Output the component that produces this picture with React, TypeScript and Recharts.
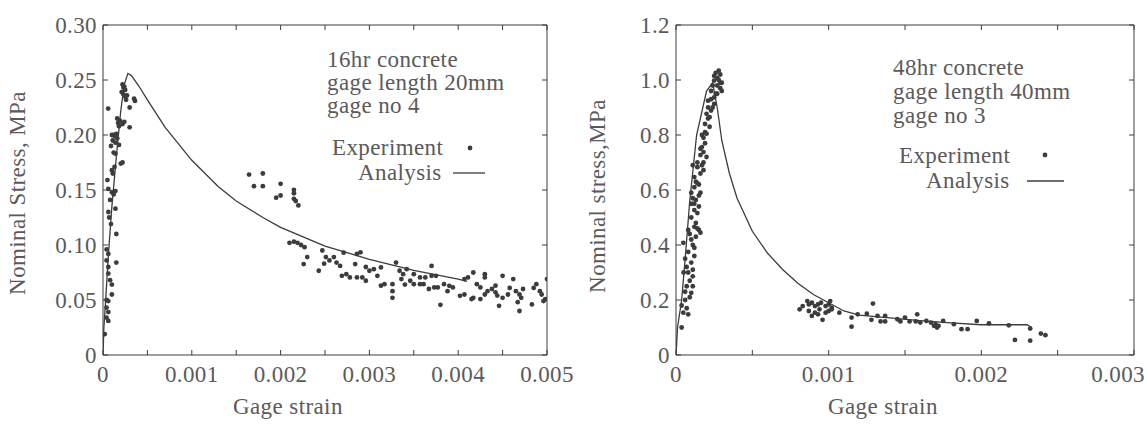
import React from "react";
import { ScatterChart, Scatter, XAxis, YAxis } from "recharts";

const FONT = "Liberation Serif, Tinos, DejaVu Serif, serif";
const TEXT = "#5a5a5a";
const INK = "#3c3c3c";

// ---- left panel: 16hr concrete ----
const leftXTicks = [0, 0.0005, 0.001, 0.0015, 0.002, 0.0025, 0.003, 0.0035, 0.004, 0.0045, 0.005];
const leftXLabels = ["0", "", "0.001", "", "0.002", "", "0.003", "", "0.004", "", "0.005"];
const leftYTicks = [0, 0.05, 0.1, 0.15, 0.2, 0.25, 0.3];
const leftYLabels = ["0", "0.05", "0.10", "0.15", "0.20", "0.25", "0.30"];

const leftAnalysis = [
  [0, 0], [0.00001, 0.025], [0.00003, 0.05], [0.00006, 0.09], [0.0001, 0.135], [0.00015, 0.18],
  [0.0002, 0.222], [0.00024, 0.246], [0.00028, 0.256], [0.00032, 0.254], [0.0004, 0.245],
  [0.0005, 0.232], [0.0007, 0.207], [0.001, 0.177], [0.0013, 0.153], [0.0015, 0.14],
  [0.0018, 0.125], [0.002, 0.116], [0.0025, 0.099], [0.003, 0.087], [0.0035, 0.077],
  [0.004, 0.069], [0.0041, 0.067],
];

const leftExperiment = [
  [0.000058, 0.224], [0.00022, 0.246], [0.00024, 0.244], [0.00025, 0.241], [0.00023, 0.237],
  [0.00027, 0.236], [0.00026, 0.232], [0.00035, 0.233], [0.00036, 0.231], [0.0003, 0.225],
  [0.0003, 0.207], [0.00016, 0.215], [0.00019, 0.213], [0.00022, 0.21], [0.00024, 0.212],
  [0.00018, 0.208], [0.0001, 0.2], [0.00013, 0.199], [0.00016, 0.197], [0.00011, 0.195],
  [0.00014, 0.193], [0.00018, 0.191], [0.00012, 0.184], [0.00014, 0.183], [0.0002, 0.174],
  [0.00022, 0.175], [0.0001, 0.168], [0.00011, 0.165], [0.00005, 0.159], [0.00006, 0.151],
  [0.0001, 0.148], [0.00012, 0.146], [0.00014, 0.149], [0.00006, 0.13], [0.00007, 0.125],
  [0.00014, 0.133], [0.00015, 0.11], [0.00004, 0.096], [0.00006, 0.092], [0.00004, 0.086],
  [0.00006, 0.08], [0.00015, 0.084], [0.00006, 0.074], [0.00008, 0.068], [0.0001, 0.064],
  [0.0001, 0.055], [0.00004, 0.05], [0.00006, 0.049], [0.00004, 0.043], [0.00006, 0.039],
  [0.00004, 0.034], [0.00006, 0.031], [0.00002, 0.019],
  [0.00023, 0.243], [0.00021, 0.239], [0.00025, 0.235], [0.00017, 0.211], [0.00012, 0.2],
  [0.00015, 0.201], [0.00009, 0.19], [0.00013, 0.171], [0.00008, 0.141], [0.00009, 0.119],
  [0.001645, 0.164], [0.0018, 0.165], [0.0017, 0.1535], [0.0018, 0.1535], [0.002, 0.1556],
  [0.00195, 0.143], [0.002, 0.145], [0.00215, 0.15], [0.00215, 0.147], [0.00215, 0.142],
  [0.00217, 0.14], [0.0022, 0.136],
  [0.0021, 0.102], [0.00215, 0.103], [0.00219, 0.102], [0.00223, 0.1], [0.00227, 0.098],
  [0.00226, 0.0827], [0.0023, 0.089], [0.00243, 0.0766], [0.00247, 0.095], [0.00251, 0.089],
  [0.00255, 0.086], [0.00249, 0.083], [0.0026, 0.089], [0.00263, 0.084], [0.00267, 0.081],
  [0.00271, 0.093], [0.00269, 0.072], [0.00274, 0.0735], [0.00278, 0.0705], [0.00284, 0.0827],
  [0.00286, 0.092], [0.0029, 0.0933], [0.00286, 0.0705], [0.00292, 0.0705], [0.00296, 0.0675],
  [0.00296, 0.08], [0.003, 0.0766], [0.00305, 0.078], [0.00309, 0.072], [0.00313, 0.0796],
  [0.00313, 0.063], [0.00317, 0.0644], [0.00326, 0.0644], [0.00326, 0.058], [0.00326, 0.052],
  [0.0033, 0.084], [0.00334, 0.0766], [0.00338, 0.0735], [0.00342, 0.078], [0.00336, 0.069],
  [0.0034, 0.064], [0.00346, 0.0675], [0.0035, 0.0644], [0.00357, 0.0644], [0.00361, 0.0644],
  [0.0035, 0.0735], [0.00357, 0.0705], [0.0037, 0.081], [0.00363, 0.0705], [0.0037, 0.072],
  [0.00375, 0.072], [0.00367, 0.06], [0.00373, 0.0614], [0.00377, 0.0614], [0.0038, 0.0456],
  [0.00384, 0.0644], [0.00388, 0.058], [0.0039, 0.0629], [0.00394, 0.0614], [0.00402, 0.0538],
  [0.00407, 0.055], [0.00407, 0.069], [0.00411, 0.0705], [0.00417, 0.075], [0.00415, 0.0508],
  [0.00417, 0.052], [0.00421, 0.0644], [0.00425, 0.0614], [0.0043, 0.0735], [0.0043, 0.0705],
  [0.0043, 0.055], [0.00425, 0.0508], [0.00433, 0.058], [0.00438, 0.06], [0.00442, 0.063],
  [0.00442, 0.057], [0.00444, 0.054], [0.00446, 0.0447], [0.0045, 0.052], [0.00456, 0.055],
  [0.00458, 0.061], [0.0045, 0.072], [0.00462, 0.069], [0.00465, 0.058], [0.00467, 0.048],
  [0.00469, 0.055], [0.00471, 0.052], [0.00469, 0.04], [0.00473, 0.06], [0.00483, 0.046],
  [0.00485, 0.061], [0.00488, 0.0644], [0.00492, 0.058], [0.00494, 0.055], [0.00496, 0.049],
  [0.00498, 0.0508], [0.005, 0.069],
];

// ---- right panel: 48hr concrete ----
const rightXTicks = [0, 0.0005, 0.001, 0.0015, 0.002, 0.0025, 0.003];
const rightXLabels = ["0", "", "0.001", "", "0.002", "", "0.003"];
const rightYTicks = [0, 0.2, 0.4, 0.6, 0.8, 1.0, 1.2];
const rightYLabels = ["0", "0.2", "0.4", "0.6", "0.8", "1.0", "1.2"];

const rightAnalysis = [
  [0, 0], [0.00001, 0.1], [0.000037, 0.2], [0.00006, 0.35], [0.00009, 0.56], [0.000135, 0.8],
  [0.0002, 0.96], [0.00024, 0.99], [0.00027, 0.9], [0.0003, 0.78], [0.00035, 0.66],
  [0.0004, 0.57], [0.0005, 0.45], [0.0006, 0.37], [0.0007, 0.31], [0.0008, 0.26],
  [0.0009, 0.22], [0.001, 0.19], [0.0011, 0.16], [0.0012, 0.145], [0.0014, 0.135],
  [0.0016, 0.125], [0.0018, 0.117], [0.002, 0.11], [0.0023, 0.11], [0.00233, 0.1],
];

const rightExperiment = [
  [0.000037, 0.1], [0.000048, 0.154], [0.00008, 0.148], [0.000037, 0.18], [0.00006, 0.2],
  [0.0001, 0.226], [0.00007, 0.25], [0.00011, 0.25], [0.00005, 0.3], [0.00007, 0.32],
  [0.0001, 0.336], [0.00011, 0.286], [0.000048, 0.408], [0.00008, 0.375], [0.00011, 0.4],
  [0.00012, 0.36], [0.0001, 0.42], [0.00008, 0.455], [0.00012, 0.466], [0.00015, 0.455],
  [0.00016, 0.445], [0.0001, 0.5], [0.00012, 0.527], [0.00014, 0.516], [0.0001, 0.55],
  [0.00013, 0.564], [0.0001, 0.59], [0.00012, 0.61], [0.00016, 0.59], [0.00014, 0.625],
  [0.00012, 0.647], [0.00016, 0.66], [0.00018, 0.672], [0.00014, 0.683], [0.00011, 0.69],
  [0.00016, 0.727], [0.00018, 0.738], [0.00017, 0.756], [0.0002, 0.72], [0.00018, 0.79],
  [0.0002, 0.805], [0.00022, 0.83], [0.00019, 0.84], [0.00022, 0.865], [0.0002, 0.877],
  [0.00023, 0.889], [0.00025, 0.913], [0.00021, 0.925], [0.00025, 0.937], [0.00027, 0.95],
  [0.00023, 0.96], [0.00029, 0.97], [0.0003, 0.96], [0.00025, 0.998], [0.00027, 1.008],
  [0.00026, 1.026], [0.00028, 1.034], [0.00029, 0.99], [0.0003, 0.99],
  [0.00007, 0.17], [0.00009, 0.27], [0.00006, 0.35], [0.00009, 0.44], [0.00013, 0.48],
  [0.00011, 0.57], [0.00015, 0.62], [0.00014, 0.7], [0.00019, 0.77], [0.00017, 0.8],
  [0.00021, 0.86], [0.00024, 0.9], [0.00026, 0.95], [0.00024, 0.98], [0.00028, 1.0],
  [0.00029, 1.02], [0.00008, 0.3], [0.00013, 0.43], [0.00015, 0.54], [0.00018, 0.7],
  [0.00006, 0.23], [0.00009, 0.21], [0.00011, 0.31], [0.00012, 0.39], [0.00014, 0.46],
  [0.00012, 0.55], [0.00015, 0.58], [0.00013, 0.63], [0.00017, 0.69], [0.00016, 0.75],
  [0.00019, 0.81], [0.00021, 0.9], [0.00023, 0.93], [0.00027, 0.98], [0.00025, 1.015],
  [0.00081, 0.166], [0.00083, 0.178], [0.00086, 0.196], [0.00087, 0.184], [0.00089, 0.19],
  [0.00091, 0.178], [0.00093, 0.184], [0.00095, 0.19], [0.00098, 0.178], [0.001, 0.184],
  [0.00102, 0.172], [0.00087, 0.16], [0.00091, 0.154], [0.00094, 0.166], [0.00098, 0.154],
  [0.001, 0.16], [0.00089, 0.142], [0.00093, 0.148], [0.00096, 0.128], [0.00102, 0.166],
  [0.00101, 0.196], [0.00107, 0.154], [0.00115, 0.136], [0.00115, 0.103], [0.00119, 0.148],
  [0.00125, 0.15], [0.00129, 0.187], [0.00132, 0.142], [0.00137, 0.142], [0.00128, 0.128],
  [0.00134, 0.122], [0.00137, 0.122], [0.00145, 0.13], [0.00147, 0.122], [0.0015, 0.136],
  [0.00153, 0.122], [0.00158, 0.148], [0.00157, 0.122], [0.0016, 0.118], [0.00164, 0.124],
  [0.00167, 0.118], [0.0017, 0.112], [0.00171, 0.1], [0.00175, 0.124], [0.00169, 0.106],
  [0.00172, 0.106], [0.00182, 0.112], [0.00187, 0.094], [0.00191, 0.094], [0.00197, 0.124],
  [0.00205, 0.115], [0.00218, 0.108], [0.00222, 0.055], [0.00232, 0.052], [0.00232, 0.096],
  [0.00239, 0.078], [0.00242, 0.072],
];

const toPoints = (rows: number[][]) => rows.map(([x, y]) => ({ x, y }));

const labelFor = (ticks: number[], labels: string[], v: number) => {
  const i = ticks.findIndex((t) => Math.abs(t - v) < 1e-12);
  return i >= 0 ? labels[i] : "";
};

const T = (props: any) => (
  <text fontFamily={FONT} fontSize={23} fill={TEXT} letterSpacing={0.4} {...props} />
);

// bottom ticks point inward; a label that would run off the panel is pulled back in
const bottomTick = (ticks: number[], labels: string[], panelWidth: number) => (props: any) => {
  const { x, y, payload } = props;
  const label = labelFor(ticks, labels, payload.value);
  const fits = x + 27 < panelWidth - 2;
  return (
    <g>
      <line x1={x} y1={y} x2={x} y2={y - 5} stroke={INK} strokeWidth={1} />
      {label && (
        <T
          x={fits ? x : panelWidth - 2}
          y={y + 27}
          textAnchor={fits ? "middle" : "end"}
        >
          {label}
        </T>
      )}
    </g>
  );
};

const leftTick = (ticks: number[], labels: string[]) => (props: any) => {
  const { x, y, payload } = props;
  const label = labelFor(ticks, labels, payload.value);
  return (
    <g>
      <line x1={x} y1={y} x2={x + 5} y2={y} stroke={INK} strokeWidth={1} />
      <T x={x - 6} y={y + 8} textAnchor="end">
        {label}
      </T>
    </g>
  );
};

const topTick = (props: any) => (
  <line x1={props.x} y1={props.y} x2={props.x} y2={props.y + 5} stroke={INK} strokeWidth={1} />
);

const rightTick = (props: any) => (
  <line x1={props.x} y1={props.y} x2={props.x - 5} y2={props.y} stroke={INK} strokeWidth={1} />
);

const dot = (p: any) => <circle cx={p.cx} cy={p.cy} r={2.4} fill={INK} />;
const none = () => <g />;

interface PanelProps {
  width: number;
  yAxisWidth: number;
  right: number;
  xTicks: number[];
  xLabels: string[];
  yTicks: number[];
  yLabels: string[];
  experiment: number[][];
  analysis: number[][];
}

const Panel: React.FC<PanelProps> = (p) => {
  const xDomain = [p.xTicks[0], p.xTicks[p.xTicks.length - 1]];
  const yDomain = [p.yTicks[0], p.yTicks[p.yTicks.length - 1]];
  return (
    <ScatterChart width={p.width} height={424} margin={{ top: 24, right: p.right, bottom: 29, left: 0 }}>
      <XAxis
        type="number"
        dataKey="x"
        domain={xDomain}
        ticks={p.xTicks}
        interval={0}
        allowDataOverflow
        height={40}
        tickLine={false}
        tickSize={0}
        tickMargin={0}
        stroke={INK}
        tick={bottomTick(p.xTicks, p.xLabels, p.width)}
      />
      <XAxis
        xAxisId="top"
        orientation="top"
        type="number"
        dataKey="x"
        domain={xDomain}
        ticks={p.xTicks}
        interval={0}
        allowDataOverflow
        height={1}
        tickLine={false}
        tickSize={0}
        tickMargin={0}
        stroke={INK}
        tick={topTick}
      />
      <YAxis
        type="number"
        dataKey="y"
        domain={yDomain}
        ticks={p.yTicks}
        interval={0}
        allowDataOverflow
        width={p.yAxisWidth}
        tickLine={false}
        tickSize={0}
        tickMargin={0}
        stroke={INK}
        tick={leftTick(p.yTicks, p.yLabels)}
      />
      <YAxis
        yAxisId="right"
        orientation="right"
        type="number"
        dataKey="y"
        domain={yDomain}
        ticks={p.yTicks}
        interval={0}
        allowDataOverflow
        width={1}
        tickLine={false}
        tickSize={0}
        tickMargin={0}
        stroke={INK}
        tick={rightTick}
      />
      <Scatter
        xAxisId="top"
        yAxisId="right"
        data={toPoints(p.analysis)}
        shape={none}
        isAnimationActive={false}
      />
      <Scatter
        data={toPoints(p.analysis)}
        line={{ stroke: INK, strokeWidth: 1.3 }}
        lineType="joint"
        shape={none}
        isAnimationActive={false}
      />
      <Scatter data={toPoints(p.experiment)} shape={dot} isAnimationActive={false} />
    </ScatterChart>
  );
};

const Notes: React.FC = () => (
  <svg
    width={1147}
    height={424}
    style={{ position: "absolute", left: 0, top: 0, pointerEvents: "none" }}
  >
    <T x={327} y={67}>16hr concrete</T>
    <T x={327} y={90}>gage length 20mm</T>
    <T x={327} y={113}>gage no 4</T>
    <T x={332} y={155}>Experiment</T>
    <T x={358} y={180}>Analysis</T>
    <T x={233} y={414}>Gage strain</T>
    <T x={25} y={193} textAnchor="middle" transform="rotate(-90 25 193)">
      Nominal Stress, MPa
    </T>

    <T x={893} y={75}>48hr concrete</T>
    <T x={893} y={99}>gage length 40mm</T>
    <T x={893} y={123}>gage no 3</T>
    <T x={899} y={163}>Experiment</T>
    <T x={926} y={188}>Analysis</T>
    <T x={828} y={414}>Gage strain</T>
    <T x={605} y={196} textAnchor="middle" transform="rotate(-90 605 196)">
      Nominal stress,MPa
    </T>

    <circle cx={470} cy={148} r={2.4} fill={INK} />
    <line x1={453} y1={173} x2={485} y2={173} stroke={INK} strokeWidth={1.3} />
    <circle cx={1045} cy={155} r={2.4} fill={INK} />
    <line x1={1027} y1={181} x2={1064} y2={181} stroke={INK} strokeWidth={1.3} />
  </svg>
);

export default function App() {
  return (
    <div style={{ position: "absolute", left: 0, top: 0, width: 1147, height: 424, background: "#fff" }}>
      <div style={{ position: "absolute", left: 0, top: 0 }}>
        <Panel
          width={580}
          yAxisWidth={103}
          right={32}
          xTicks={leftXTicks}
          xLabels={leftXLabels}
          yTicks={leftYTicks}
          yLabels={leftYLabels}
          experiment={leftExperiment}
          analysis={leftAnalysis}
        />
      </div>
      <div style={{ position: "absolute", left: 580, top: 0 }}>
        <Panel
          width={567}
          yAxisWidth={96}
          right={12}
          xTicks={rightXTicks}
          xLabels={rightXLabels}
          yTicks={rightYTicks}
          yLabels={rightYLabels}
          experiment={rightExperiment}
          analysis={rightAnalysis}
        />
      </div>
      <Notes />
    </div>
  );
}
